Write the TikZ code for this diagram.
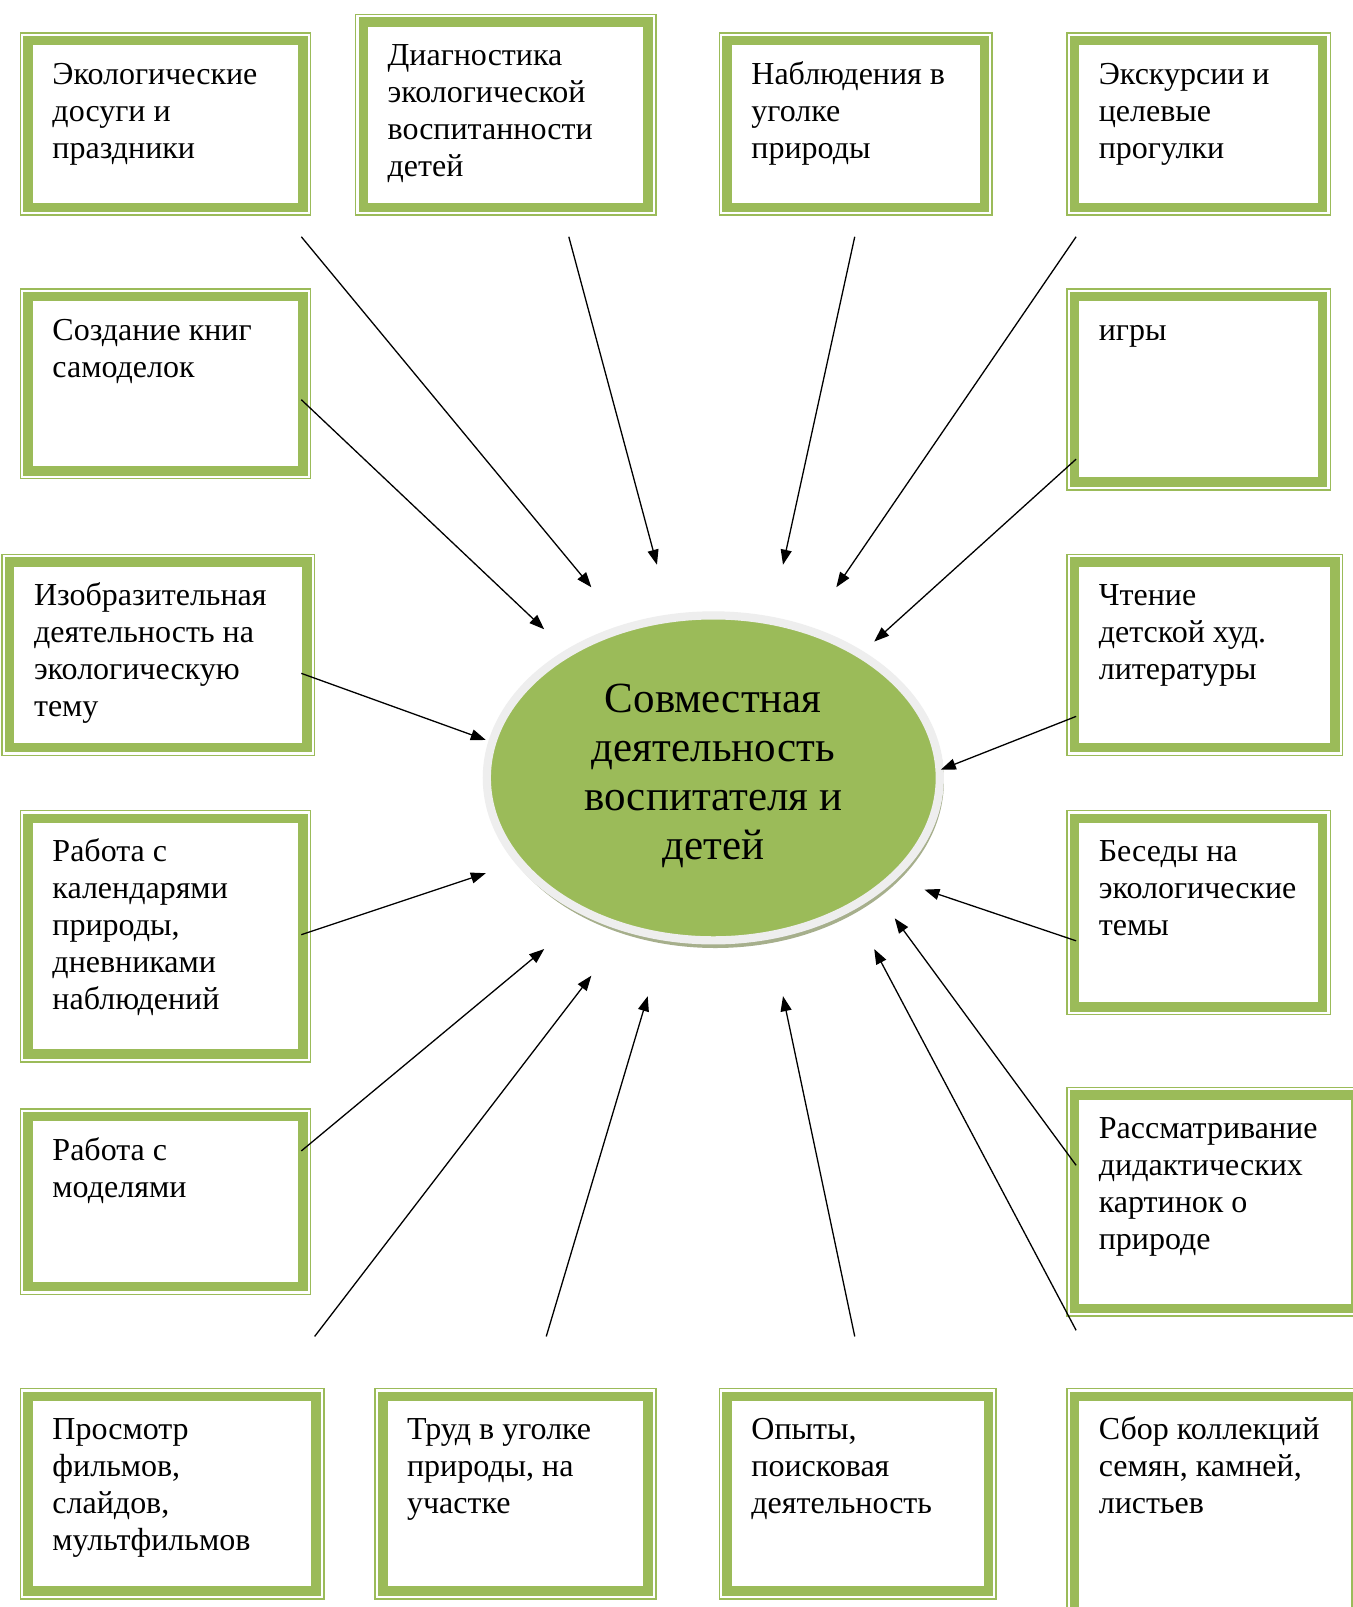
\documentclass[tikz,border=0pt]{standalone}
\usepackage{fontspec}
\setmainfont{Liberation Serif}
\usetikzlibrary{arrows.meta,shapes.geometric}
\definecolor{eco}{HTML}{9BBB59}
\definecolor{rimc}{HTML}{EEEEEE}
\definecolor{shadowc}{HTML}{A6AF8C}
\tikzset{
  ecothin/.style={draw=eco,line width=1.5pt},
  ecothick/.style={draw=eco,line width=9.5pt},
  boxtext/.style={anchor=base west,inner sep=0pt,font=\fontsize{32}{37}\selectfont},
  arr/.style={-{Triangle[length=15pt,width=11pt]},line width=1.3pt,black},
}
\newcommand{\ecobox}[6]{%
  \draw[ecothin] (#2,#3) rectangle (#4,#5);
  \draw[ecothick] ({#2+7.5},{#3+7.5}) rectangle ({#4-7.5},{#5-7.5});
  \node[boxtext] (#1) at ({#2+31},{#3+50}) {\begin{tabular}[t]{@{}l@{}}#6\end{tabular}};
}
\begin{document}
\begin{tikzpicture}[x=1.025pt,y=-1.025pt]
\useasboundingbox (0,0) rectangle (1320,1568);
\fill[white] (0,0) rectangle (1320,1568);
\clip (0,0) rectangle (1320,1568);

% boxes
\ecobox{b1}{20}{32}{303}{210}{Экологические\\досуги и\\праздники}
\ecobox{b2}{347}{14}{640}{210}{Диагностика\\экологической\\воспитанности\\детей}
\ecobox{b3}{702}{32}{968}{210}{Наблюдения в\\уголке\\природы}
\ecobox{b4}{1041}{32}{1298}{210}{Экскурсии и\\целевые\\прогулки}
\ecobox{b5}{20}{282}{303}{467}{Создание книг\\самоделок}
\ecobox{b6}{1041}{282}{1298}{478}{игры}
\ecobox{b7}{2}{541}{307}{737}{Изобразительная\\деятельность на\\экологическую\\тему}
\ecobox{b8}{1041}{541}{1310}{737}{Чтение\\детской худ.\\литературы}
\ecobox{b9}{20}{791}{303}{1036}{Работа с\\календарями\\природы,\\дневниками\\наблюдений}
\ecobox{b10}{1041}{791}{1298}{990}{Беседы на\\экологические\\темы}
\ecobox{b11}{20}{1082}{303}{1263}{Работа с\\моделями}
\ecobox{b12}{1041}{1061}{1330}{1284}{Рассматривание\\дидактических\\картинок о\\природе}
\ecobox{b13}{20}{1355}{316}{1560}{Просмотр\\фильмов,\\слайдов,\\мультфильмов}
\ecobox{b14}{366}{1355}{640}{1560}{Труд в уголке\\природы, на\\участке}
\ecobox{b15}{702}{1355}{972}{1560}{Опыты,\\поисковая\\деятельность}
\ecobox{b16}{1041}{1355}{1330}{1580}{Сбор коллекций\\семян, камней,\\листьев}

% central ellipse
\fill[shadowc] (698,762) ellipse [x radius=223, y radius=163];
\node[ellipse,fill=eco,draw=rimc,line width=8.2pt,minimum width=453pt,minimum height=325pt,inner sep=0pt] (c) at (696,759) {};
\node[align=center,inner sep=0pt,font=\fontsize{43}{49}\selectfont] (ct) at (696,757)
  {Совместная\\деятельность\\воспитателя и\\детей};

% arrows
\coordinate (s1) at (294,231);   \coordinate (e1) at (577,573);
\coordinate (s2) at (555,231);   \coordinate (e2) at (641,551);
\coordinate (s3) at (834,231);   \coordinate (e3) at (764,551);
\coordinate (s4) at (1050,231);  \coordinate (e4) at (816,573);
\coordinate (s5) at (294,390);   \coordinate (e5) at (531,614);
\coordinate (s6) at (1050,448);  \coordinate (e6) at (853,626);
\coordinate (s7) at (294,657);   \coordinate (e7) at (474,722);
\coordinate (s8) at (1050,699);  \coordinate (e8) at (918,751);
\coordinate (s9) at (294,912);   \coordinate (e9) at (474,852);
\coordinate (s10) at (1050,918); \coordinate (e10) at (902,868);
\coordinate (s11) at (294,1123); \coordinate (e11) at (531,926);
\coordinate (s12) at (1050,1137);\coordinate (e12) at (873,896);
\coordinate (s13) at (307,1304); \coordinate (e13) at (577,952);
\coordinate (s14) at (533,1304); \coordinate (e14) at (632,972);
\coordinate (s15) at (834,1304); \coordinate (e15) at (764,972);
\coordinate (s16) at (1050,1298);\coordinate (e16) at (853,926);
\foreach \i in {1,...,16} {\draw[arr] (s\i) -- (e\i);}
\end{tikzpicture}
\end{document}
